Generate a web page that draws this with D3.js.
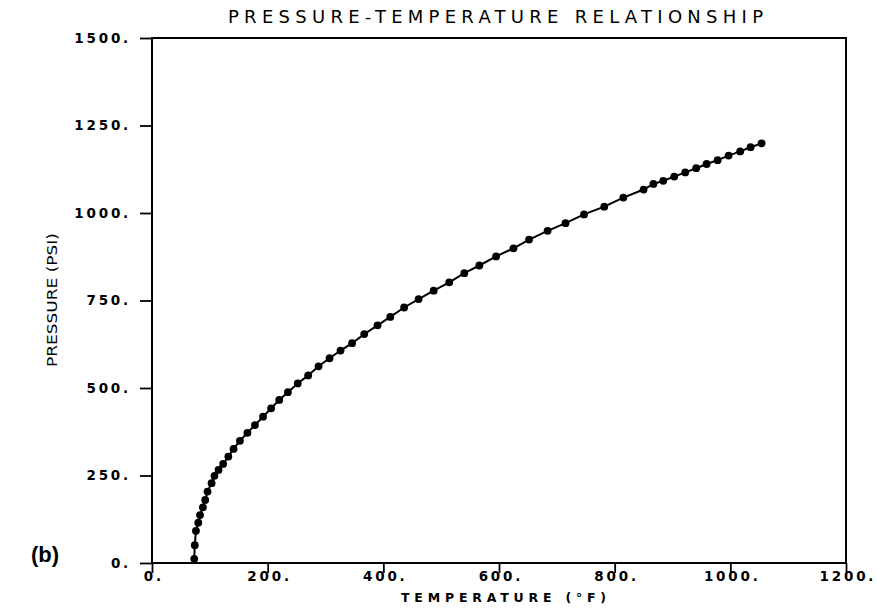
<!DOCTYPE html>
<html>
<head>
<meta charset="utf-8">
<script src="https://cdn.jsdelivr.net/npm/d3@7"></script>
<style>
  html, body { margin: 0; padding: 0; background: #fff; }
  svg { display: block; }
</style>
</head>
<body>
<svg id="chart" width="877" height="608"></svg>
<script>
// Pressure–temperature curve, one reading per marker
const temperature = [73, 74, 76, 80, 83, 88, 92, 96, 103, 108, 115, 123, 132, 141, 152, 165,
  178, 192, 206, 220, 235, 252, 270, 288, 307, 326, 346, 367, 390, 412, 436, 461, 487,
  514, 540, 566, 595, 625, 652, 684, 715, 747, 782, 815, 850, 867, 884, 903, 922, 941,
  959, 978, 997, 1017, 1035, 1054];
const pressure = [12, 51, 92, 115, 137, 159, 180, 204, 228, 249, 266, 283, 304, 326, 349, 372,
  394, 418, 442, 466, 488, 513, 536, 562, 585, 607, 628, 654, 679, 703, 730, 754, 778,
  802, 828, 850, 876, 899, 924, 949, 971, 996, 1018, 1044, 1067, 1083, 1092, 1104, 1116, 1128,
  1140, 1151, 1164, 1176, 1188, 1199];

const xTicks = [0, 200, 400, 600, 800, 1000, 1200];
const yTicks = [0, 250, 500, 750, 1000, 1250, 1500];

const titleText = "PRESSURE-TEMPERATURE RELATIONSHIP";
const xLabel = "TEMPERATURE (\u00B0F)";
const yLabel = "PRESSURE (PSI)";
const panelLabel = "(b)";

const svg = d3.select("#chart");
const plotLeft = 152, plotRight = 846, plotTop = 38, plotBottom = 563;

const x = d3.scaleLinear().domain([0, 1200]).range([plotLeft, plotRight]);
const y = d3.scaleLinear().domain([0, 1500]).range([plotBottom, plotTop]);

const tickFont = "'DejaVu Sans', sans-serif";
const tickSize = 13.5;
const tickSpacing = 2.8;

// plot frame
svg.append("rect")
  .attr("x", plotLeft).attr("y", plotTop)
  .attr("width", plotRight - plotLeft).attr("height", plotBottom - plotTop)
  .attr("fill", "none").attr("stroke", "#000").attr("stroke-width", 2);

// x axis
const gx = svg.append("g")
  .attr("transform", `translate(0,${plotBottom})`)
  .call(d3.axisBottom(x).tickValues(xTicks).tickSize(10).tickPadding(2)
    .tickFormat(d => d + "."));
gx.select(".domain").remove();
gx.selectAll(".tick line").attr("stroke", "#000").attr("stroke-width", 1.8);
gx.selectAll(".tick text")
  .attr("font-family", tickFont).attr("font-size", tickSize).attr("font-weight", "bold")
  .attr("letter-spacing", tickSpacing + "px").attr("dx", tickSpacing / 2)
  .attr("fill", "#000").attr("dy", "0.45em");

// y axis
const gy = svg.append("g")
  .attr("transform", `translate(${plotLeft},0)`)
  .call(d3.axisLeft(y).tickValues(yTicks).tickSize(12).tickPadding(9)
    .tickFormat(d => d + "."));
gy.select(".domain").remove();
gy.selectAll(".tick line").attr("stroke", "#000").attr("stroke-width", 1.8);
gy.selectAll(".tick text")
  .attr("font-family", tickFont).attr("font-size", tickSize).attr("font-weight", "bold")
  .attr("letter-spacing", tickSpacing + "px").attr("fill", "#000");

// title
svg.append("text")
  .attr("x", 228).attr("y", 23)
  .attr("font-family", tickFont).attr("font-size", 18)
  .attr("textLength", 535).attr("lengthAdjust", "spacing")
  .attr("fill", "#000")
  .text(titleText);

// axis titles
svg.append("text")
  .attr("x", 401).attr("y", 602)
  .attr("font-family", tickFont).attr("font-size", 12.5).attr("font-weight", "bold")
  .attr("textLength", 205).attr("lengthAdjust", "spacing")
  .attr("fill", "#000")
  .text(xLabel);

svg.append("text")
  .attr("transform", `translate(57,${300}) rotate(-90)`)
  .attr("x", -67)
  .attr("font-family", "'Liberation Sans Narrow', 'DejaVu Sans Condensed', sans-serif")
  .attr("font-stretch", "condensed")
  .attr("font-size", 13.5).attr("fill", "#000")
  .attr("textLength", 134).attr("lengthAdjust", "spacingAndGlyphs")
  .text(yLabel);

svg.append("text")
  .attr("x", 31).attr("y", 562)
  .attr("font-family", "'Liberation Sans', Arial, sans-serif")
  .attr("font-size", 22).attr("font-weight", "bold").attr("fill", "#000")
  .text(panelLabel);

// curve and markers
const pts = temperature.map((t, i) => ({ t, p: pressure[i] }));
const line = d3.line().x(d => x(d.t)).y(d => y(d.p));

svg.append("path")
  .datum(pts)
  .attr("d", line)
  .attr("fill", "none").attr("stroke", "#000").attr("stroke-width", 2);

svg.append("g").selectAll("circle")
  .data(pts).join("circle")
  .attr("cx", d => x(d.t)).attr("cy", d => y(d.p))
  .attr("r", 3.9).attr("fill", "#000");
</script>
</body>
</html>
